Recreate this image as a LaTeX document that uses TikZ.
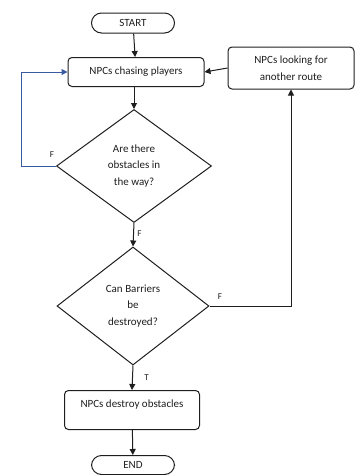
\documentclass[tikz,border=0pt]{standalone}
\usepackage{fontspec}
\setmainfont{Carlito}
\usetikzlibrary{shapes.geometric,arrows.meta}
\definecolor{loopblue}{RGB}{55,90,160}
\definecolor{ink}{RGB}{30,30,30}
\begin{document}
\begin{tikzpicture}[x=1pt,y=-1pt,
  every node/.style={font=\fontsize{11}{16.5}\selectfont, text=ink},
  term/.style={draw=ink, line width=1pt, rounded corners=10pt, minimum width=83pt, minimum height=20pt, inner sep=0pt},
  proc/.style={draw=ink, line width=1pt, rounded corners=4pt, inner sep=0pt, align=center},
  decide/.style={draw=ink, line width=1pt, diamond, inner sep=0pt, align=center},
  conn/.style={draw=ink, line width=1pt, -{Triangle[width=6pt,length=6pt]}},
  lab/.style={font=\fontsize{9}{10}\selectfont}
]
\useasboundingbox (0,0) rectangle (355,475);
\node[term] (start) at (133,23) {START};
\node[proc, minimum width=136pt, minimum height=29pt] (chase) at (136,72) {NPCs chasing players};
\node[proc, minimum width=126pt, minimum height=42pt] (route) at (291,68) {NPCs looking for\\another route};
\node[decide, minimum width=155pt, minimum height=113pt] (d1) at (134,166) {Are there\\obstacles in\\the way?};
\node[decide, minimum width=152pt, minimum height=118pt] (d2) at (133,306) {Can Barriers\\be\\destroyed?};
\node[proc, minimum width=135pt, minimum height=39pt, text depth=12pt] (destroy) at (132,410) {NPCs destroy obstacles};
\node[term, minimum height=19pt] (end) at (133,465) {END};

\draw[conn] (start) -- (chase);
\draw[conn] (chase.south -| d1.north) -- (d1.north);
\draw[conn, draw=loopblue, -{Triangle[width=6pt,length=6pt,fill=loopblue]}] (d1.west) -- ++(-35,0) |- (chase.west);
\draw[conn] (d1.south) -- node[lab, right, pos=0.45] {F} (d2.north);
\draw[conn] (d2.east) -| (route.south);
\draw[conn] (route.west) -- (chase.east);
\draw[conn] (d2.south) -- node[lab, right, xshift=8pt, pos=0.5] {T} (destroy.north);
\draw[conn] (destroy) -- (end);
\node[lab] (f1) at (52,155) {F};
\node[lab] (f2) at (220,297) {F};
\end{tikzpicture}
\end{document}
